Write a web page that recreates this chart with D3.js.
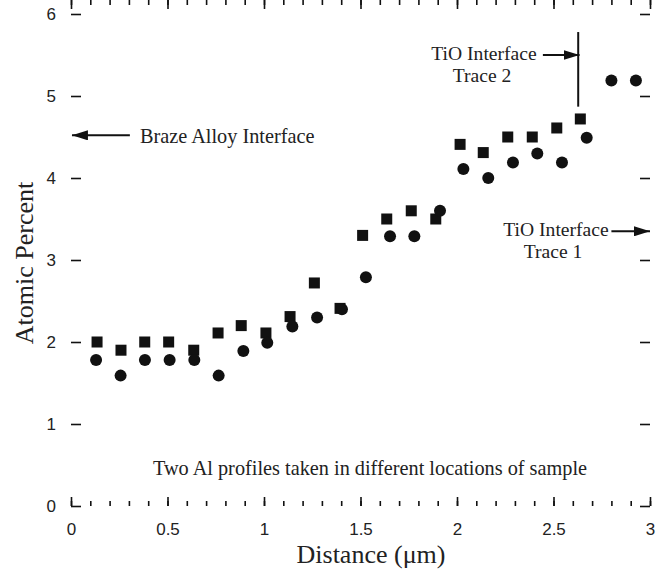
<!DOCTYPE html>
<html>
<head>
<meta charset="utf-8">
<script src="https://cdn.jsdelivr.net/npm/d3@7"></script>
<style>
  body { margin: 0; background: #fff; }
  svg { display: block; }
  .tick text { font-family: "Liberation Sans", Arial, sans-serif; font-size: 17px; fill: #222; }
  .note { font-family: "Liberation Serif", "Times New Roman", serif; font-size: 20.3px; fill: #222; }
  .note.two { font-size: 19.6px; }
  .title { font-family: "Liberation Serif", "Times New Roman", serif; font-size: 26px; fill: #222; }
</style>
</head>
<body>
<div id="chart"></div>
<script>
// trace 2 (squares)
var trace2X = [0.135, 0.259, 0.382, 0.506, 0.636, 0.762, 0.882, 1.010, 1.135, 1.261, 1.394,
               1.511, 1.636, 1.763, 1.890, 2.016, 2.136, 2.263, 2.390, 2.517, 2.639]
var trace2Y = [2.00, 1.90, 2.00, 2.00, 1.90, 2.11, 2.20, 2.11, 2.31, 2.72, 2.41,
               3.30, 3.50, 3.60, 3.50, 4.41, 4.31, 4.50, 4.50, 4.61, 4.72]
// trace 1 (circles)
var trace1X = [0.130, 0.257, 0.383, 0.511, 0.639, 0.765, 0.893, 1.017, 1.147, 1.275, 1.404,
               1.528, 1.653, 1.779, 1.912, 2.033, 2.162, 2.290, 2.416, 2.544, 2.672, 2.800, 2.927]
var trace1Y = [1.78, 1.59, 1.78, 1.78, 1.78, 1.59, 1.89, 1.99, 2.19, 2.30, 2.40,
               2.79, 3.29, 3.29, 3.60, 4.11, 4.00, 4.19, 4.30, 4.19, 4.49, 5.19, 5.19]
var xTicks = [0, 0.5, 1, 1.5, 2, 2.5, 3]
var xTickLabels = ['0', '0.5', '1', '1.5', '2', '2.5', '3']
var yTicks = [0, 1, 2, 3, 4, 5, 6]

var width = 665, height = 569
var margin = {top: 14, right: 15, bottom: 63, left: 71}

var x = d3.scaleLinear().domain([0, 3]).range([margin.left, width - margin.right])
var y = d3.scaleLinear().domain([0, 6]).range([height - margin.bottom, margin.top])
var minorTicks = d3.range(0, 31).map(d => d / 10)

var svg = d3.select('#chart')
    .append('svg')
    .attr('width', width).attr('height', height)

svg.append('defs').append('marker')
    .attr('id', 'head')
    .attr('viewBox', '0 0 16 10')
    .attr('refX', 16).attr('refY', 5)
    .attr('markerWidth', 16).attr('markerHeight', 10)
    .attr('markerUnits', 'userSpaceOnUse')
    .attr('orient', 'auto')
    .append('path')
    .attr('d', 'M0,0L16,5L0,10Z')
    .attr('fill', '#111')

// axes, ticks pointing inward
function styleAxis(g) {
  g.select('.domain').remove()
  g.selectAll('.tick line').attr('stroke', '#111').attr('stroke-width', 1.6)
}
var bottom = y(0), top = y(6), left = x(0), right = x(3)

svg.append('g').attr('transform', `translate(0,${bottom})`)
  .call(d3.axisBottom(x).tickValues(minorTicks).tickSize(-5).tickFormat(''))
  .call(styleAxis)
svg.append('g').attr('transform', `translate(0,${bottom})`)
  .call(d3.axisBottom(x).tickValues(xTicks).tickSize(-9).tickPadding(17)
        .tickFormat((d, i) => xTickLabels[i]))
  .call(styleAxis)
svg.append('g').attr('transform', `translate(0,${top})`)
  .call(d3.axisTop(x).tickValues(minorTicks).tickSize(-5).tickFormat(''))
  .call(styleAxis)
svg.append('g').attr('transform', `translate(0,${top})`)
  .call(d3.axisTop(x).tickValues(xTicks).tickSize(-9).tickFormat(''))
  .call(styleAxis)
svg.append('g').attr('transform', `translate(${left},0)`)
  .call(d3.axisLeft(y).tickValues(yTicks).tickSize(-10).tickPadding(15).tickFormat(d3.format('d')))
  .call(styleAxis)
svg.append('g').attr('transform', `translate(${right},0)`)
  .call(d3.axisRight(y).tickValues(yTicks).tickSize(-10).tickFormat(''))
  .call(styleAxis)

svg.append('rect')
  .attr('x', left).attr('y', top)
  .attr('width', right - left).attr('height', bottom - top)
  .attr('fill', 'none').attr('stroke', '#111').attr('stroke-width', 2)

// data
svg.selectAll('.sq')
  .data(d3.zip(trace2X, trace2Y))
  .enter()
  .append('rect')
  .attr('class', 'sq')
  .attr('x', d => x(d[0]) - 5.5)
  .attr('y', d => y(d[1]) - 5.5)
  .attr('width', 11).attr('height', 11)
  .attr('fill', '#111')

svg.selectAll('.dot')
  .data(d3.zip(trace1X, trace1Y))
  .enter()
  .append('circle')
  .attr('class', 'dot')
  .attr('cx', d => x(d[0]))
  .attr('cy', d => y(d[1]))
  .attr('r', 6)
  .attr('fill', '#111')

// annotations
function arrow(x1, y1, x2, y2) {
  svg.append('line')
    .attr('x1', x(x1)).attr('y1', y(y1))
    .attr('x2', x(x2)).attr('y2', y(y2))
    .attr('stroke', '#111').attr('stroke-width', 2)
    .attr('marker-end', 'url(#head)')
}
// two-line note
function note2(cx, y0, line1, line2, dx2) {
  svg.append('text').attr('class', 'note two').attr('text-anchor', 'middle')
    .attr('x', cx).attr('y', y0).text(line1)
  svg.append('text').attr('class', 'note two').attr('text-anchor', 'middle')
    .attr('x', cx + dx2).attr('y', y0 + 22).text(line2)
}

arrow(0.305, 4.52, 0.005, 4.52)
svg.append('text').attr('class', 'note')
  .attr('x', x(0.357)).attr('y', 143)
  .text('Braze Alloy Interface')

svg.append('line')
  .attr('x1', x(2.628)).attr('x2', x(2.628))
  .attr('y1', y(5.78)).attr('y2', y(4.87))
  .attr('stroke', '#111').attr('stroke-width', 2)
arrow(2.445, 5.5, 2.635, 5.5)
note2(484, 60, 'TiO Interface', 'Trace 2', -2)

arrow(2.80, 3.35, 3.0, 3.35)
note2(556, 236, 'TiO Interface', 'Trace 1', -3)

svg.append('text').attr('class', 'note')
  .attr('text-anchor', 'middle')
  .attr('x', 370).attr('y', 475)
  .text('Two Al profiles taken in different locations of sample')

// axis titles
svg.append('text').attr('class', 'title')
  .attr('text-anchor', 'middle')
  .attr('x', 371).attr('y', 563)
  .text('Distance (\u03bcm)')
svg.append('text').attr('class', 'title')
  .attr('text-anchor', 'middle')
  .attr('transform', 'translate(33,263) rotate(-90)')
  .text('Atomic Percent')
</script>
</body>
</html>
